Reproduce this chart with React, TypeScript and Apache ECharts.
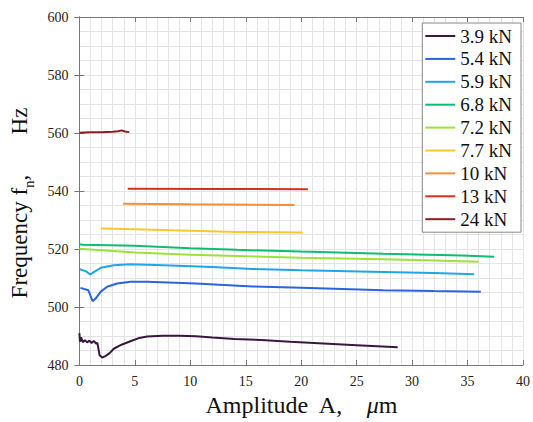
import React, { useEffect, useRef } from "react";
import * as echarts from "echarts";

const seriesNames = ["3.9 kN", "5.4 kN", "5.9 kN", "6.8 kN", "7.2 kN", "7.7 kN", "10 kN", "13 kN", "24 kN"];
const seriesColors = ["#3c1642", "#2b64db", "#1ea7e8", "#10bb72", "#9be23a", "#fcc72c", "#f98d35", "#d7301f", "#8b1e1e"];

const s39: number[][] = [
  [0, 491], [0.05, 488], [0.15, 489.5], [0.3, 487.9], [0.5, 488.5], [0.7, 487.8], [0.9, 488.4],
  [1.1, 487.6], [1.3, 488.3], [1.5, 487.4], [1.62, 487.6], [1.72, 485.5], [1.82, 483.4], [2.05, 482.6],
  [2.3, 483.0], [2.7, 484.0], [3.1, 485.6], [3.8, 487.0], [4.6, 488.2], [5.3, 489.2], [6.1, 489.8],
  [7.5, 490.1], [9, 490.1], [10.5, 489.9], [12, 489.5], [14, 489.0], [16.4, 488.6], [19, 488.0],
  [22, 487.4], [25, 486.8], [28.7, 486.1],
];
const s54: number[][] = [
  [0.09, 506.6], [0.44, 506.2], [0.8, 505.8], [0.98, 504.1], [1.19, 502.0], [1.48, 503.0], [1.93, 505.3],
  [2.5, 507.0], [3.4, 508.1], [4.6, 508.7], [6.1, 508.7], [10.5, 508.1], [15.6, 507.1], [20, 506.6],
  [27.4, 505.8], [32, 505.5], [36.2, 505.3],
];
const s59: number[][] = [
  [0.05, 513.0], [0.6, 512.3], [0.98, 511.2], [1.33, 512.1], [1.93, 513.5], [3.1, 514.4], [4.6, 514.7],
  [7.6, 514.4], [12, 513.8], [15.6, 513.1], [20, 512.7], [27.4, 512.1], [32, 511.7], [35.6, 511.3],
];
const s68: number[][] = [
  [0, 521.6], [0.3, 521.5], [5, 521.1], [10, 520.3], [14.2, 519.7], [20, 519.1], [27.4, 518.4],
  [34.5, 517.8], [37.4, 517.3],
];
const s72: number[][] = [
  [0, 520.1], [2, 519.6], [5, 518.8], [10, 518.0], [14.2, 517.6], [20, 517.0], [27.4, 516.5],
  [32, 516.0], [36, 515.6],
];
const s77: number[][] = [[1.93, 527.1], [5, 526.8], [10, 526.3], [14.2, 525.9], [20.15, 525.7]];
const s10: number[][] = [[3.94, 535.6], [10, 535.4], [19.4, 535.2]];
const s13: number[][] = [[4.36, 540.8], [12, 540.7], [20.6, 540.6]];
const s24: number[][] = [
  [0, 560.1], [1, 560.3], [2, 560.3], [3, 560.4], [3.5, 560.6], [3.8, 560.9], [4.1, 560.5], [4.5, 560.3],
];
const allData = [s39, s54, s59, s68, s72, s77, s10, s13, s24];

const xMin = 0, xMax = 40, xStep = 5;
const yMin = 480, yMax = 600, yStep = 20;

const FONT = "Liberation Serif";

export default function App() {
  const ref = useRef<HTMLDivElement>(null);
  useEffect(() => {
    if (!ref.current) return;
    const chart = echarts.init(ref.current, undefined, { renderer: "svg" });
    const gridColor = "#e4e4e4";
    const axisColor = "#777";
    const baseAxis = (extra: any) => ({
      axisLine: { show: true, lineStyle: { color: axisColor, width: 1 } },
      axisTick: { show: true, inside: true, length: 5, lineStyle: { color: axisColor } },
      ...extra,
    });
    chart.setOption({
      animation: false,
      backgroundColor: "#fff",
      textStyle: { fontFamily: FONT },
      grid: { left: 75, right: 8, top: 17, bottom: 55, containLabel: false },
      legend: {
        orient: "vertical",
        right: 12,
        top: 23,
        data: seriesNames.map((n) => ({ name: n, icon: "rect" })),
        itemWidth: 30,
        itemHeight: 2,
        itemGap: 2.9,
        padding: [3, 9, 3, 3],
        backgroundColor: "#fff",
        borderColor: "#888",
        borderWidth: 1,
        borderRadius: 0,
        textStyle: { fontFamily: FONT, fontSize: 19, color: "#111", lineHeight: 20 },
      },
      xAxis: [
        baseAxis({
          type: "value",
          min: xMin,
          max: xMax,
          interval: xStep,
          position: "bottom",
          name: "{a|Amplitude  A,    }{i|μ}{a|m}",
          nameLocation: "middle",
          nameGap: 28,
          nameTextStyle: {
            fontFamily: FONT,
            rich: {
              a: { fontFamily: FONT, fontSize: 24, color: "#111" },
              i: { fontFamily: FONT, fontSize: 24, fontStyle: "italic", color: "#111" },
            },
          },
          axisLabel: { fontFamily: FONT, fontSize: 14, color: "#222", margin: 9 },
          splitLine: { show: true, lineStyle: { color: gridColor, width: 1 } },
          minorTick: { show: false, splitNumber: 5 },
          minorSplitLine: { show: true, lineStyle: { color: gridColor, width: 1 } },
        }),
        baseAxis({
          type: "value",
          min: xMin,
          max: xMax,
          interval: xStep,
          position: "top",
          axisLabel: { show: false },
          splitLine: { show: false },
        }),
      ],
      yAxis: [
        baseAxis({
          type: "value",
          min: yMin,
          max: yMax,
          interval: yStep,
          position: "left",
          name: "{a|Frequency f}{s|n}{a|,       Hz}",
          nameLocation: "middle",
          nameGap: 24,
          nameTextStyle: {
            fontFamily: FONT,
            padding: [0, 24, 0, 0],
            rich: {
              a: { fontFamily: FONT, fontSize: 23, color: "#111", lineHeight: 34 },
              s: { fontFamily: FONT, fontSize: 15, color: "#111", lineHeight: 34, verticalAlign: "bottom" },
            },
          },
          axisLabel: { fontFamily: FONT, fontSize: 14, color: "#222", margin: 11 },
          splitLine: { show: true, lineStyle: { color: gridColor, width: 1 } },
          minorTick: { show: false, splitNumber: 4 },
          minorSplitLine: { show: true, lineStyle: { color: gridColor, width: 1 } },
        }),
        baseAxis({
          type: "value",
          min: yMin,
          max: yMax,
          interval: yStep,
          position: "right",
          axisLabel: { show: false },
          splitLine: { show: false },
        }),
      ],
      series: seriesNames.map((name, i) => ({
        name,
        type: "line",
        xAxisIndex: 0,
        yAxisIndex: 0,
        data: allData[i],
        symbol: "none",
        smooth: false,
        color: seriesColors[i],
        itemStyle: { color: seriesColors[i] },
        lineStyle: { width: 2, color: seriesColors[i] },
      })),
    });
    return () => chart.dispose();
  }, []);
  return <div ref={ref} style={{ position: "fixed", left: 0, top: 0, width: 533, height: 422 }} />;
}
